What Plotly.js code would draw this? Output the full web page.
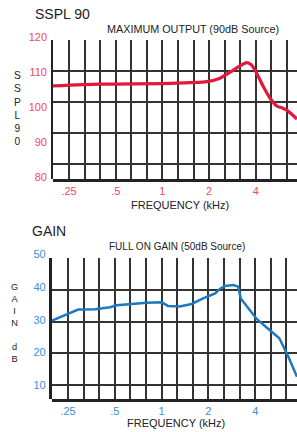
<!DOCTYPE html>
<html>
<head>
<meta charset="utf-8">
<script src="https://cdn.plot.ly/plotly-3.0.1.min.js"></script>
<style>
html,body{margin:0;padding:0;background:#fff;overflow:hidden;}
#chart{width:297px;height:432px;}
</style>
</head>
<body>
<div id="chart"></div>
<script>
// ---- data ----
const ssplFreq = [0.197, 0.396, 1.12, 1.93, 2.35, 2.73, 3.16, 3.49, 3.76, 4.05, 4.47, 4.94, 5.46, 5.88, 6.33, 7.37];
const ssplDb   = [106.0, 106.5, 106.7, 107.2, 108.2, 109.9, 111.7, 112.6, 111.9, 109.6, 105.8, 102.5, 100.3, 99.8, 99.1, 96.6];

const gainFreq = [0.197, 0.291, 0.373, 0.466, 0.514, 0.658, 0.802, 1.00, 1.10, 1.31, 1.56, 1.85, 2.21, 2.37, 2.56, 2.89, 3.11, 3.23, 3.61, 4.09, 4.74, 5.72, 6.53, 7.43];
const gainDb   = [29.7, 33.1, 33.2, 33.8, 34.4, 34.8, 35.2, 35.3, 34.2, 34.0, 34.8, 36.5, 38.0, 39.4, 40.3, 40.6, 40.1, 36.5, 33.5, 30.2, 27.6, 24.3, 18.7, 12.5];

const freqTickVals = [0.25, 0.5, 1, 2, 4];
const freqTickText = ['.25', '.5', '1', '2', '4'];
const ssplTickVals = [80, 90, 100, 110, 120];
const gainTickVals = [10, 20, 30, 40, 50];

// third-octave grid lines
const thirdOct = [];
for (let k = 0; k <= 14; k++) thirdOct.push(0.25 * Math.pow(2, k / 3));

// ---- layout helpers ----
const W = 297, H = 432;
const px = v => v / W;
const py = v => 1 - v / H;
const RED = '#e2193f', RED_T = '#ef4b5a';
const BLUE = '#1a79c1', BLUE_T = '#3b8fd2';
const GRID = '#333333';
const FONT = 'Liberation Sans, Arial, sans-serif';

function gridX(l, range, anchor) {
  return {domain: [px(l), 1], type: 'log', range: range, anchor: anchor,
    tickmode: 'array', tickvals: thirdOct, showticklabels: false, ticks: '',
    showgrid: true, gridcolor: GRID, gridwidth: 2, zeroline: false, showline: false, fixedrange: true};
}
function gridY(top, bot, range, vals, anchor) {
  return {domain: [py(bot), py(top)], range: range, anchor: anchor,
    tickmode: 'array', tickvals: vals, showticklabels: false, ticks: '',
    showgrid: true, gridcolor: GRID, gridwidth: 2, zeroline: false,
    showline: true, linecolor: '#222', linewidth: 2.5, fixedrange: true};
}
function labX(l, range, anchor, col) {
  return {domain: [px(l), 1], type: 'log', range: range, anchor: anchor,
    tickmode: 'array', tickvals: freqTickVals, ticktext: freqTickText, ticks: '',
    tickfont: {family: FONT, size: 11, color: col}, showgrid: false, zeroline: false,
    showline: true, linecolor: '#222', linewidth: 2.5, fixedrange: true};
}
function labY(top, bot, range, vals, anchor, col) {
  return {domain: [py(bot), py(top)], range: range, anchor: anchor,
    tickmode: 'array', tickvals: vals, ticks: '', ticklabelstandoff: 5,
    tickfont: {family: FONT, size: 11, color: col}, showgrid: false, zeroline: false,
    showline: false, fixedrange: true};
}

const xr1 = [Math.log10(0.1971), Math.log10(7.37)];
const xr2 = [Math.log10(0.1964), Math.log10(7.43)];

const traces = [
  {x: ssplFreq, y: ssplDb, xaxis: 'x2', yaxis: 'y2', mode: 'lines',
   line: {color: RED, width: 3.2, shape: 'spline', smoothing: 0.6}, hoverinfo: 'skip'},
  {x: gainFreq, y: gainDb, xaxis: 'x4', yaxis: 'y4', mode: 'lines',
   line: {color: BLUE, width: 2.5}, hoverinfo: 'skip'}
];

function ann(text, x, y, size, xanchor, extra) {
  return Object.assign({text: text, xref: 'paper', yref: 'paper', x: px(x), y: py(y),
    xanchor: xanchor || 'center', yanchor: 'middle', showarrow: false,
    font: {family: FONT, size: size, color: '#222'}}, extra || {});
}

const layout = {
  width: W, height: H,
  margin: {l: 0, r: 0, t: 0, b: 0},
  paper_bgcolor: '#ffffff', plot_bgcolor: 'rgba(0,0,0,0)',
  showlegend: false,
  xaxis: gridX(53, xr1, 'y'),
  yaxis: gridY(40, 179, [75.27, 120.1], ssplTickVals, 'x'),
  xaxis2: labX(53, xr1, 'y2', RED_T),
  yaxis2: labY(35, 179, [79.52, 120.48], ssplTickVals, 'x2', RED_T),
  xaxis3: gridX(51.7, xr2, 'y3'),
  yaxis3: gridY(258.3, 399.3, [5.49, 50.1], gainTickVals, 'x3'),
  xaxis4: labX(51.7, xr2, 'y4', BLUE_T),
  yaxis4: labY(250, 399.3, [5.62, 51.32], gainTickVals, 'x4', BLUE_T),
  annotations: [
    ann('SSPL 90', 33, 14, 14, 'left'),
    ann('MAXIMUM OUTPUT (90dB Source)', 193.3, 29, 10.8),
    ann('S<br>S<br>P<br>L<br>9<br>0', 17, 108.3, 10.2),
    ann('FREQUENCY (kHz)', 180, 205, 11),
    ann('GAIN', 30, 231, 14, 'left'),
    ann('FULL ON GAIN (50dB Source)', 176.7, 246.7, 10),
    ann('G<br>A<br>I<br>N<br> <br>d<br>B', 15, 323, 9.2),
    ann('FREQUENCY (kHz)', 175.8, 423.3, 11)
  ]
};

// grid subplots first so they sit below the data subplots
const gridTraces = [
  {x: [], y: [], xaxis: 'x', yaxis: 'y', mode: 'lines', hoverinfo: 'skip'},
  {x: [], y: [], xaxis: 'x3', yaxis: 'y3', mode: 'lines', hoverinfo: 'skip'}
];

Plotly.newPlot('chart', gridTraces.concat(traces), layout, {staticPlot: true, displayModeBar: false});
</script>
</body>
</html>
